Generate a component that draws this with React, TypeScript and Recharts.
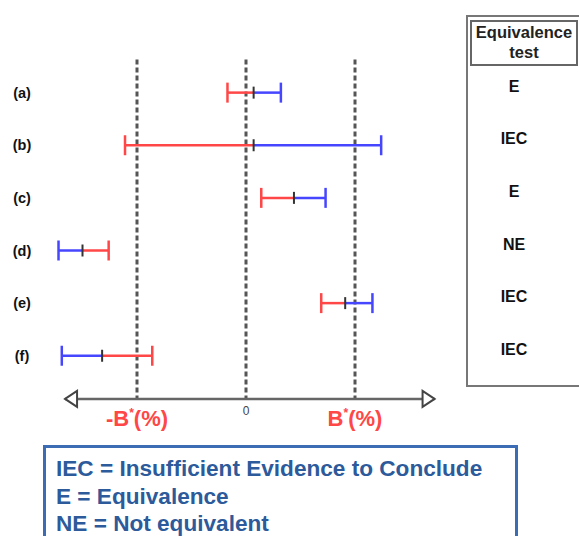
import {
  ScatterChart,
  Scatter,
  XAxis,
  YAxis,
  ReferenceLine,
} from "recharts";

// rows (a)..(f); x in units of B* (%)
const rowLabels = ["(a)", "(b)", "(c)", "(d)", "(e)", "(f)"];
const means = [0.07, 0.07, 0.44, -1.5, 0.91, -1.32];
const redEnds = [-0.17, -1.11, 0.14, -1.26, 0.69, -0.86];
const blueEnds = [0.32, 1.24, 0.73, -1.72, 1.16, -1.69];
const testResults = ["E", "IEC", "E", "NE", "IEC", "IEC"];

const limits = [-1, 0, 1];
const limitLabels = ["-B", "0", "B"];
const legendLines = [
  "IEC = Insufficient Evidence to Conclude",
  "E = Equivalence",
  "NE = Not equivalent",
];

const AXIS_ROW = 6.82;
const TOP_ROW = 0.37;
const AXIS_ENDS = [-1.66, 1.73];

const RED = "#ff4747";
const BLUE = "#4646ff";
const GREY = "#555";
const FONT = "'Liberation Sans', Arial, sans-serif";

const rowNums = rowLabels.map((_, i) => i + 1);
const meanPts = means.map((x, i) => ({ x, y: i + 1 }));
const redPts = redEnds.map((x, i) => ({ x, y: i + 1 }));
const bluePts = blueEnds.map((x, i) => ({ x, y: i + 1 }));
const arrowPts = AXIS_ENDS.map((x, i) => ({ x, y: AXIS_ROW, dir: i === 0 ? -1 : 1 }));

const capShape = (color: string, half: number, w: number) => (p: any) => (
  <line x1={p.cx} x2={p.cx} y1={p.cy - half} y2={p.cy + half} stroke={color} strokeWidth={w} />
);

const arrowShape = (p: any) => {
  const d = p.payload.dir;
  const bx = p.cx - d * 12;
  return (
    <path
      d={`M${p.cx},${p.cy} L${bx},${p.cy - 8} L${bx},${p.cy + 8} Z`}
      fill="#fff"
      stroke="#444"
      strokeWidth={2}
    />
  );
};

// row label on the left, equivalence result in the table on the right
const RowTick = (p: any) => {
  const i = p.payload.value - 1;
  return (
    <g>
      <text x={22} y={p.y} dy={5} textAnchor="middle" fontSize={14.5} fontWeight={900} fill="#111"
        fontFamily={FONT}>
        {rowLabels[i]}
      </text>
      <text x={514} y={p.y} dy={-1} textAnchor="middle" fontSize={16} fontWeight={900} fill="#111"
        fontFamily={FONT}>
        {testResults[i]}
      </text>
    </g>
  );
};

const limitLabel = (i: number) => (p: any) => {
  const vb = p.viewBox;
  const x = vb.x;
  const y = vb.y + vb.height;
  if (limitLabels[i] === "0") {
    return (
      <text x={x} y={y + 16} textAnchor="middle" fontSize={12} fill="#444" fontFamily={FONT}>0</text>
    );
  }
  return (
    <text x={x} y={y + 27} textAnchor="middle" fontSize={22} fontWeight={700} fill={RED} fontFamily={FONT}>
      {limitLabels[i]}
      <tspan fontSize={12} dy={-9}>*</tspan>
      <tspan dy={9}>(%)</tspan>
    </text>
  );
};

export default function App() {
  return (
    <div style={{ position: "absolute", left: 0, top: 0, width: 579, height: 536, overflow: "hidden", background: "#fff" }}>
      <ScatterChart width={579} height={536} margin={{ top: 40, right: 115, bottom: 75, left: 0 }}>
        <XAxis type="number" dataKey="x" domain={[-2, 2]} hide allowDataOverflow />
        <YAxis yAxisId="left" type="number" dataKey="y" domain={[0, 8]} reversed width={28}
          ticks={rowNums} interval={0} axisLine={false} tickLine={false} tick={RowTick} />

        {limits.map((v, i) => (
          <ReferenceLine key={`lim${i}`} yAxisId="left"
            segment={[{ x: v, y: TOP_ROW }, { x: v, y: AXIS_ROW }]}
            stroke={GREY} strokeWidth={3} strokeDasharray="5 3"
            label={limitLabel(i)} />
        ))}

        <ReferenceLine yAxisId="left"
          segment={[{ x: AXIS_ENDS[0], y: AXIS_ROW }, { x: AXIS_ENDS[1], y: AXIS_ROW }]}
          stroke="#666" strokeWidth={2.5} />

        {means.map((m, i) => (
          <ReferenceLine key={`r${i}`} yAxisId="left"
            segment={[{ x: redEnds[i], y: i + 1 }, { x: m, y: i + 1 }]}
            stroke={RED} strokeWidth={2.5} />
        ))}
        {means.map((m, i) => (
          <ReferenceLine key={`b${i}`} yAxisId="left"
            segment={[{ x: m, y: i + 1 }, { x: blueEnds[i], y: i + 1 }]}
            stroke={BLUE} strokeWidth={2.5} />
        ))}

        <Scatter yAxisId="left" data={redPts} shape={capShape(RED, 10, 2.5)} isAnimationActive={false} />
        <Scatter yAxisId="left" data={bluePts} shape={capShape(BLUE, 10, 2.5)} isAnimationActive={false} />
        <Scatter yAxisId="left" data={meanPts} shape={capShape("#333", 6, 2)} isAnimationActive={false} />
        <Scatter yAxisId="left" data={arrowPts} shape={arrowShape} isAnimationActive={false} />
      </ScatterChart>

      {/* equivalence test table */}
      <div style={{ position: "absolute", left: 466, top: 15, width: 130, height: 368, border: "2px solid #777" }} />
      <div style={{
        position: "absolute", left: 470, top: 20, width: 104, height: 42, border: "2px solid #666",
        fontFamily: FONT, fontSize: 16.5, fontWeight: 700, color: "#222",
        textAlign: "center", lineHeight: "20px",
      }}>
        Equivalence<br />test
      </div>

      {/* legend */}
      <div style={{
        position: "absolute", left: 43, top: 445, width: 475, height: 120, border: "3px solid #3b6cb4",
        fontFamily: FONT, fontSize: 22.6, fontWeight: 700, color: "#2d5a9a",
        lineHeight: "27.5px", paddingLeft: 10, paddingTop: 7, boxSizing: "border-box",
      }}>
        {legendLines.map((l) => (
          <div key={l}>{l}</div>
        ))}
      </div>
    </div>
  );
}
